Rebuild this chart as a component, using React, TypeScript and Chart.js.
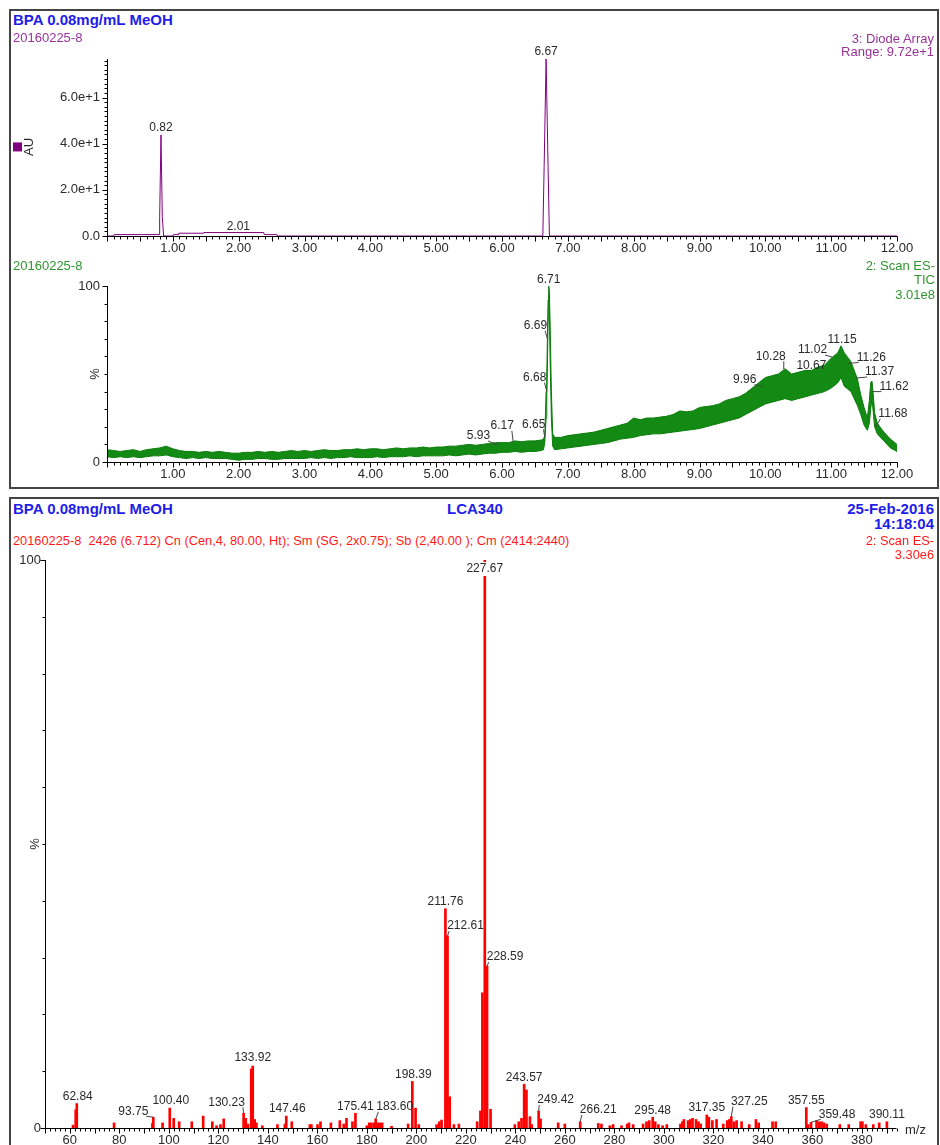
import { useEffect, useRef } from "react";
import { Chart, registerables } from "chart.js";

Chart.register(...registerables);

const FONT = "'Liberation Sans', Arial, Helvetica, sans-serif";
Chart.defaults.font.family = FONT;
Chart.defaults.color = "#2a2a2a";

// ---------------- Panel 1: Diode Array (AU) ----------------
const dadTimes = [0, 0.1, 0.11, 0.79, 0.8, 0.82, 0.84, 0.86, 1.0, 1.01, 1.08, 1.09, 1.46, 1.47, 2.38, 2.39, 2.58, 2.59, 6.62, 6.64, 6.67, 6.7, 6.72, 12];
const dadAbsorbance = [0, 0, 0.6, 0.6, 8, 43.8, 8, 0, 0, 0.6, 0.6, 1.2, 1.2, 1.5, 1.5, 0.6, 0.6, 0, 0, 30, 76.7, 30, 0, 0];
const dadPeakTimes = [0.82, 2.01, 6.67];
const dadPeakValues = [43.8, 1.5, 76.7];

const timeTicks = [1, 2, 3, 4, 5, 6, 7, 8, 9, 10, 11, 12];
const timeTickLabels = ["1.00", "2.00", "3.00", "4.00", "5.00", "6.00", "7.00", "8.00", "9.00", "10.00", "11.00", "12.00"];
const dadYTicks = [0, 20, 40, 60];
const dadYTickLabels = ["0.0", "2.0e+1", "4.0e+1", "6.0e+1"];

// ---------------- Panel 2: TIC (%), noise band low / high ----------------
const ticTimes = [
  0.0, 0.1, 0.2, 0.3, 0.4, 0.5, 0.6, 0.7, 0.8, 0.9,
  1.0, 1.1, 1.2, 1.3, 1.4, 1.5, 1.6, 1.7, 1.8, 1.9,
  2.0, 2.1, 2.2, 2.3, 2.4, 2.5, 2.6, 2.7, 2.8, 2.9,
  3.0, 3.1, 3.2, 3.3, 3.4, 3.5, 3.6, 3.7, 3.8, 3.9,
  4.0, 4.1, 4.2, 4.3, 4.4, 4.5, 4.6, 4.7, 4.8, 4.9,
  5.0, 5.1, 5.2, 5.3, 5.4, 5.5, 5.6, 5.7, 5.8, 5.9,
  6.0, 6.1, 6.2, 6.3, 6.4, 6.5, 6.6,
  6.63, 6.65, 6.67, 6.68, 6.69, 6.7, 6.71, 6.72, 6.73, 6.75, 6.77,
  6.8, 6.9, 7.0, 7.1, 7.2, 7.3, 7.4, 7.5, 7.6, 7.7, 7.8, 7.9,
  8.0, 8.1, 8.2, 8.3, 8.4, 8.5, 8.6, 8.7, 8.8, 8.9,
  9.0, 9.1, 9.2, 9.3, 9.4, 9.5, 9.6, 9.7, 9.8, 9.9,
  10.0, 10.1, 10.2, 10.3, 10.4, 10.5, 10.6, 10.7, 10.8, 10.9, 11.0,
  11.1, 11.15, 11.2, 11.3, 11.4, 11.45, 11.5, 11.55, 11.58, 11.6, 11.62, 11.64, 11.66, 11.7, 11.8, 11.9, 12.0,
];
const ticLow = [
  3, 2.5, 3, 2.5, 3, 2.5, 3, 3.5, 3.5, 4,
  3, 2.5, 2, 2.5, 2, 2.5, 2, 2, 2, 1.5,
  1, 1.5, 1.5, 2, 2, 1.5, 1.5, 2, 2, 2,
  2, 2.5, 2, 2.5, 2, 2.5, 2.5, 3, 2.5, 2.5,
  2.5, 3, 2.5, 3, 3, 3, 3.5, 3, 3.5, 3.5,
  3.5, 3.5, 4, 3.5, 4, 4.5, 4, 4.5, 5, 5,
  5.5, 5.5, 6, 5.5, 6, 6, 6.5,
  7, 11, 25, 38, 55, 80, 95, 85, 60, 25, 9,
  7, 7.5, 8, 8.5, 9, 9.5, 10, 10.5, 11, 12, 13, 13.5,
  14, 15, 15.5, 16, 16, 16.5, 17, 17.5, 18, 18.5,
  19, 20, 21, 22, 23, 24, 25, 27, 29, 31,
  33, 34, 35, 36, 35, 36, 37, 38, 39, 40, 42,
  45, 48, 43, 40, 32, 27, 21, 18, 22, 30, 36, 28, 20, 16, 12, 8, 6,
];
const ticHigh = [
  7, 6.5, 6, 6.5, 7, 6, 7, 7.5, 8, 9,
  7.5, 6.5, 6, 6, 5.5, 6, 5.5, 6, 5.5, 5,
  5, 5.5, 5.5, 6, 5.5, 6, 5.5, 6, 6.5, 6,
  6.5, 6, 6.5, 7, 6.5, 6.5, 7, 7, 7.5, 7,
  7.5, 7.5, 7, 7.5, 8, 7.5, 8, 8, 8.5, 8,
  8.5, 8.5, 9, 9, 9.5, 10, 9.5, 10, 10.5, 11,
  11, 11, 12, 11.5, 12, 12, 12.5,
  13, 15, 40, 48, 72, 92, 100, 97, 80, 40, 16,
  14, 14, 15, 15.5, 16, 16.5, 17, 18, 19, 20, 21, 22,
  25, 24, 25, 25, 25.5, 26, 27, 29, 28.5, 29,
  31, 31.5, 32, 33, 35, 36, 37, 39, 42, 45,
  48, 49, 50, 53, 50, 51, 52, 52, 54, 55, 59,
  62, 66, 62, 57, 47, 38, 31, 25, 35, 45, 46, 38, 28, 22, 17, 13, 10,
];
const ticPeakTimes = [5.93, 6.17, 6.65, 6.68, 6.69, 6.71, 9.96, 10.28, 10.67, 11.02, 11.15, 11.26, 11.37, 11.62, 11.68];
const ticPeakValues = [9.7, 11.4, 14, 40, 70, 100, 42.8, 52.7, 51, 59.6, 65.9, 56, 47.7, 40, 20];
const ticYTicks = [0, 100];
const ticYTickLabels = ["0", "100"];

// ---------------- Panel 3: mass spectrum ----------------
const msMz = [
  61.3, 62.4, 62.84, 77.9, 93.4, 93.75, 97.5, 100.4, 102.0, 104.2, 109.3, 113.9, 117.6, 119.3, 120.9, 122.2,
  130.23, 131.1, 132.0, 133.3, 133.92, 134.7, 135.4, 137.8, 143.9, 146.9, 147.46, 149.7, 157.0, 157.6, 160.1, 161.3,
  165.5, 169.1, 170.7, 171.8, 174.2, 175.41, 180.0, 181.0, 181.8, 182.8, 183.6, 184.4, 185.3, 186.2, 190.0,
  196.7, 198.39, 199.7, 201.0, 208.2, 209.3, 210.2, 211.76, 212.61, 213.5, 215.2, 217.2,
  224.6, 225.9, 226.7, 227.67, 228.59, 230.0, 239.8, 241.4, 242.5, 243.57, 244.5, 245.9, 246.6, 249.42, 250.2,
  257.3, 260.0, 266.21, 273.5, 274.8, 278.2, 279.5, 282.9, 285.2, 285.9, 287.6, 291.6, 293.0, 294.1, 295.48,
  296.5, 297.8, 299.5, 301.2, 306.7, 307.5, 308.1, 309.8, 310.7, 311.6, 313.0, 314.0, 314.9, 317.35, 318.2,
  319.6, 321.3, 324.0, 325.6, 326.4, 327.25, 328.3, 329.4, 331.4, 334.5, 337.2, 338.3, 343.9, 345.2,
  357.55, 358.3, 359.48, 361.7, 362.8, 363.7, 364.7, 365.8, 371.1, 374.7, 379.5, 380.2, 381.6, 384.6, 387.0, 390.11,
];
const msIntensity = [
  0.5, 3.2, 4.3, 0.9, 0.8, 1.9, 0.9, 3.5, 1.7, 1.1, 1.1, 2.1, 1.1, 0.4, 0.6, 1.6,
  2.6, 1.7, 0.7, 10.4, 10.9, 1.5, 0.9, 0.4, 0.6, 0.7, 2.1, 1.1, 0.6, 0.6, 0.6, 1.1,
  0.9, 1.3, 0.7, 1.7, 1.1, 2.6, 0.4, 0.9, 0.9, 0.9, 1.6, 0.9, 0.9, 0.9, 0.3,
  0.7, 8.2, 3.5, 0.6, 0.6, 1.1, 1.4, 38.6, 33.8, 5.5, 0.6, 0.7,
  1.1, 3.0, 23.8, 100, 28.5, 3.3, 0.6, 1.1, 1.7, 7.7, 6.7, 2.0, 0.6, 3.0, 1.6,
  0.9, 0.7, 1.1, 0.8, 0.7, 0.4, 0.6, 0.4, 0.7, 0.9, 0.6, 0.7, 1.1, 1.3, 1.9,
  1.1, 0.6, 0.4, 0.6, 0.7, 1.1, 1.5, 1.3, 1.5, 1.7, 1.5, 1.1, 0.7, 2.3, 1.9,
  1.3, 1.5, 0.7, 1.3, 1.5, 2.0, 1.1, 1.3, 1.1, 0.6, 1.5, 0.9, 1.1, 1.1,
  3.6, 0.6, 1.0, 1.3, 1.1, 1.1, 0.9, 0.7, 0.6, 0.6, 1.1, 1.1, 0.6, 0.6, 0.9, 1.1,
];
const msLabelMz = [62.84, 93.75, 100.4, 130.23, 133.92, 147.46, 175.41, 183.6, 198.39, 211.76, 212.61, 227.67, 228.59, 243.57, 249.42, 266.21, 295.48, 317.35, 327.25, 357.55, 359.48, 390.11];
const msXTicks = [60, 80, 100, 120, 140, 160, 180, 200, 220, 240, 260, 280, 300, 320, 340, 360, 380];
const msYTicks = [0, 100];
const msYTickLabels = ["0", "100"];

// ---------------- label placement (pixel offsets, separate from data) ----------------
const dadLabelLayout = [[0, -7, 0], [-1, -6, 0], [0, -7, 0]];
const ticLabelLayout = [
  [-19, -9, 1], [-11, -16, 1], [-11, -13, 1], [-12, -14, 1], [-12, -13, 1], [0, -6, 0],
  [-18, -7, 1], [-13, -13, 1], [2, -7, 0], [-20, -7, 1], [1, -6, 0], [23, -6, 1], [24, -6, 1], [22, -5, 1], [17, -13, 1],
];
const msLabelLayout = [
  [1, -7, 0], [-20, -6, 1], [1, -7, 0], [-17, -11, 1], [0, -8, 0], [1, -7, 0], [0, -7, 0], [19, -12, 1],
  [1, -7, 0], [0, -7, 0], [18, -10, 1], [0, 9, 2], [18, -9, 1], [0, -7, 0], [17, -11, 1], [18, -12, 1],
  [0, -7, 0], [0, -7, 0], [18, -15, 1], [0, -7, 0], [26, -8, 1], [0, -7, 0],
];

const fmt2 = (v: number) => v.toFixed(2);

type TickLevel = { step: number; len: number };

const decorPlugin = {
  id: "decor",
  afterDraw(chart: any, _a: any, o: any) {
    const { ctx, chartArea: ca, scales } = chart;
    const xs = scales.x;
    const ys = scales.y;
    ctx.save();
    ctx.strokeStyle = "#000";
    ctx.lineWidth = 1;
    const ax = Math.round(ca.left) + 0.5;
    const ay = Math.round(ys.getPixelForValue(0)) + 0.5;
    const xEnd = xs.getPixelForValue(o.xTo);
    ctx.beginPath();
    ctx.moveTo(ax, Math.round(ca.top));
    ctx.lineTo(ax, ay);
    ctx.lineTo(xEnd, ay);
    ctx.stroke();
    // ticks
    ctx.beginPath();
    (o.xLevels as TickLevel[]).forEach((lv) => {
      const n = Math.floor((o.xTo - o.xFrom) / lv.step + 1e-6);
      for (let i = 0; i <= n; i++) {
        const v = o.xFrom + i * lv.step;
        const px = Math.round(xs.getPixelForValue(v)) + 0.5;
        ctx.moveTo(px, ay);
        ctx.lineTo(px, ay + lv.len);
      }
    });
    (o.yLevels as TickLevel[]).forEach((lv) => {
      const n = Math.floor(o.yTo / lv.step + 1e-6);
      for (let i = 0; i <= n; i++) {
        const v = i * lv.step;
        const py = Math.round(ys.getPixelForValue(v)) + 0.5;
        ctx.moveTo(ax - lv.len, py);
        ctx.lineTo(ax, py);
      }
    });
    ctx.stroke();

    ctx.fillStyle = "#2a2a2a";
    ctx.font = `13px ${FONT}`;
    ctx.textAlign = "center";
    ctx.textBaseline = "middle";
    (o.titles || []).forEach((t: any) => {
      const py = ys.getPixelForValue(t.value);
      ctx.save();
      ctx.translate(t.x, py);
      if (t.rotate) ctx.rotate(-Math.PI / 2);
      ctx.textAlign = t.align || "center";
      ctx.fillText(t.text, 0, 0);
      ctx.restore();
    });
    if (o.marker) {
      const py = ys.getPixelForValue(o.marker.value);
      ctx.fillStyle = o.marker.color;
      ctx.fillRect(o.marker.x, py - 4.5, 9, 9);
    }

    // peak labels
    ctx.font = `12px ${FONT}`;
    ctx.textAlign = "center";
    ctx.textBaseline = "middle";
    (o.labels || []).forEach((l: any) => {
      const px = xs.getPixelForValue(l.x);
      const py = ys.getPixelForValue(l.y);
      const cx = px + l.dx;
      const cy = py + l.dy;
      const w = ctx.measureText(l.text).width;
      if (l.mode === 2) {
        ctx.fillStyle = "#fff";
        ctx.fillRect(cx - w / 2 - 1, cy - 7, w + 2, 14);
      }
      if (l.mode === 1) {
        ctx.strokeStyle = "#444";
        ctx.beginPath();
        const ex = l.dx < 0 ? cx + w / 2 - 2 : cx - w / 2 + 2;
        ctx.moveTo(px, py);
        ctx.lineTo(ex, cy + 5);
        ctx.stroke();
      }
      ctx.fillStyle = "#2a2a2a";
      ctx.fillText(l.text, cx, cy);
    });
    ctx.restore();
  },
};

function baseOptions(top: number, right: number) {
  return {
    animation: false,
    responsive: false,
    maintainAspectRatio: false,
    devicePixelRatio: 1,
    events: [],
    layout: { padding: { left: 0, top, right: 940 - right, bottom: 0 } },
    plugins: { legend: { display: false }, tooltip: { enabled: false }, title: { display: false } },
  } as any;
}

function xScale(min: number, max: number, ticks: number[], labels: string[], height: number) {
  return {
    type: "linear",
    min,
    max,
    offset: false,
    grid: { display: false, drawTicks: false, offset: false },
    border: { display: false },
    afterBuildTicks: (s: any) => {
      s.ticks = ticks.map((v) => ({ value: v }));
    },
    afterFit: (s: any) => {
      s.height = height;
    },
    ticks: {
      padding: 5,
      autoSkip: false,
      maxRotation: 0,
      minRotation: 0,
      font: { size: 13 },
      color: "#2a2a2a",
      callback: (_v: any, i: number) => labels[i],
    },
  };
}

function yScale(max: number, ticks: number[], labels: string[], width: number, padding: number) {
  return {
    type: "linear",
    min: 0,
    max,
    grid: { display: false, drawTicks: false },
    border: { display: false },
    afterBuildTicks: (s: any) => {
      s.ticks = ticks.map((v) => ({ value: v }));
    },
    afterFit: (s: any) => {
      s.width = width;
    },
    ticks: {
      padding,
      autoSkip: false,
      font: { size: 13 },
      color: "#2a2a2a",
      callback: (_v: any, i: number) => labels[i],
    },
  };
}

function Txt(props: { x: number; base: number; size: number; color: string; bold?: boolean; align?: "left" | "right"; children: string }) {
  const { x, base, size, color, bold, align, children } = props;
  const top = base - 0.8465 * size;
  const style: any = {
    position: "absolute",
    top,
    fontSize: size,
    lineHeight: `${size}px`,
    color,
    fontWeight: bold ? "bold" : "normal",
    whiteSpace: "pre",
    fontFamily: FONT,
  };
  if (align === "right") style.right = 940 - x;
  else style.left = x;
  return <div style={style}>{children}</div>;
}

export default function App() {
  const c1 = useRef<HTMLCanvasElement>(null);
  const c2 = useRef<HTMLCanvasElement>(null);
  const c3 = useRef<HTMLCanvasElement>(null);

  useEffect(() => {
    const charts: Chart[] = [];

    // ---- DAD ----
    {
      const o = baseOptions(19, 897);
      charts.push(
        new Chart(c1.current!, {
          type: "line",
          data: {
            datasets: [
              {
                data: dadTimes.map((t, i) => ({ x: t, y: dadAbsorbance[i] })),
                borderColor: "#800080",
                borderWidth: 1,
                pointRadius: 0,
                tension: 0,
                fill: false,
              },
            ],
          },
          options: {
            ...o,
            plugins: {
              ...o.plugins,
              decor: {
                xFrom: 0,
                xTo: 12,
                xLevels: [{ step: 0.1, len: 3 }, { step: 0.5, len: 5 }],
                yTo: 76,
                yLevels: [{ step: 2, len: 3 }, { step: 20, len: 5 }],
                titles: [{ text: "AU", x: 29, value: 38.6, rotate: true }],
                marker: { x: 13, value: 38.6, color: "#800080" },
                labels: dadPeakTimes.map((t, i) => ({
                  x: t,
                  y: dadPeakValues[i],
                  text: fmt2(t),
                  dx: dadLabelLayout[i][0],
                  dy: dadLabelLayout[i][1],
                  mode: dadLabelLayout[i][2],
                })),
              },
            },
            scales: {
              x: xScale(0, 12, timeTicks, timeTickLabels, 220 - 196),
              y: yScale(76.7, dadYTicks, dadYTickLabels, 107, 7),
            },
          } as any,
          plugins: [decorPlugin],
        })
      );
    }

    // ---- TIC ----
    {
      const o = baseOptions(24, 897);
      charts.push(
        new Chart(c2.current!, {
          type: "line",
          data: {
            datasets: [
              {
                data: ticTimes.map((t, i) => ({ x: t, y: ticLow[i] })),
                borderColor: "#0a7d0a",
                borderWidth: 1,
                pointRadius: 0,
                tension: 0,
                fill: false,
              },
              {
                data: ticTimes.map((t, i) => ({ x: t, y: ticHigh[i] })),
                borderColor: "#0a7d0a",
                backgroundColor: "#138a13",
                borderWidth: 1,
                pointRadius: 0,
                tension: 0,
                fill: "-1",
              },
            ],
          },
          options: {
            ...o,
            plugins: {
              ...o.plugins,
              filler: { propagate: false },
              decor: {
                xFrom: 0,
                xTo: 12,
                xLevels: [{ step: 0.1, len: 3 }, { step: 0.5, len: 5 }],
                yTo: 100,
                yLevels: [{ step: 10, len: 3 }, { step: 100, len: 5 }],
                titles: [{ text: "%", x: 95, value: 50, rotate: true }],
                labels: ticPeakTimes.map((t, i) => ({
                  x: t,
                  y: ticPeakValues[i],
                  text: fmt2(t),
                  dx: ticLabelLayout[i][0],
                  dy: ticLabelLayout[i][1],
                  mode: ticLabelLayout[i][2],
                })),
              },
            },
            scales: {
              x: xScale(0, 12, timeTicks, timeTickLabels, 220 - 200),
              y: yScale(100, ticYTicks, ticYTickLabels, 107, 7),
            },
          } as any,
          plugins: [decorPlugin],
        })
      );
    }

    // ---- MS ----
    {
      const o = baseOptions(12, 899);
      charts.push(
        new Chart(c3.current!, {
          type: "bar",
          data: {
            datasets: [
              {
                data: msMz.map((m, i) => ({ x: m, y: msIntensity[i] })),
                backgroundColor: "#ff0000",
                borderWidth: 0,
                barThickness: 2,
                grouped: false,
              },
            ],
          },
          options: {
            ...o,
            plugins: {
              ...o.plugins,
              decor: {
                xFrom: 50,
                xTo: 394,
                xLevels: [{ step: 2, len: 3 }, { step: 10, len: 5 }],
                yTo: 100,
                yLevels: [{ step: 10, len: 3 }, { step: 100, len: 5 }],
                titles: [
                  { text: "%", x: 35, value: 50, rotate: true },
                  { text: "m/z", x: 905, value: -0.5, align: "left" },
                ],
                labels: msLabelMz.map((m, i) => ({
                  x: m,
                  y: msIntensity[msMz.indexOf(m)],
                  text: fmt2(m),
                  dx: msLabelLayout[i][0],
                  dy: msLabelLayout[i][1],
                  mode: msLabelLayout[i][2],
                })),
              },
            },
            scales: {
              x: xScale(50, 395, msXTicks, msXTicks.map(String), 597 - 580),
              y: yScale(100, msYTicks, msYTickLabels, 45, 4),
            },
          } as any,
          plugins: [decorPlugin],
        })
      );
    }

    return () => charts.forEach((c) => c.destroy());
  }, []);

  const box = (left: number, top: number, width: number, height: number) => ({
    position: "absolute" as const,
    left,
    top,
    width,
    height,
    border: "2px solid #444",
    boxSizing: "border-box" as const,
  });

  const blue = "#1e1ee8";
  const purple = "#993399";
  const green = "#2f962f";
  const red = "#ff1a1a";

  return (
    <div style={{ position: "absolute", left: 0, top: 0, width: 940, height: 1145, overflow: "hidden", background: "#fff", fontFamily: FONT }}>
      <div style={box(9, 9, 930, 480)} />
      <div style={box(9, 497, 930, 700)} />
      <canvas ref={c1} width={940} height={220} style={{ position: "absolute", left: 0, top: 40 }} />
      <canvas ref={c2} width={940} height={220} style={{ position: "absolute", left: 0, top: 262 }} />
      <canvas ref={c3} width={940} height={597} style={{ position: "absolute", left: 0, top: 548 }} />

      <Txt x={13} base={25} size={15} color={blue} bold>BPA 0.08mg/mL MeOH</Txt>
      <Txt x={13} base={42} size={13} color={purple}>20160225-8</Txt>
      <Txt x={934} base={43} size={13} color={purple} align="right">3: Diode Array</Txt>
      <Txt x={934} base={56} size={13} color={purple} align="right">Range: 9.72e+1</Txt>

      <Txt x={13} base={270} size={13} color={green}>20160225-8</Txt>
      <Txt x={935} base={270} size={13} color={green} align="right">2: Scan ES-</Txt>
      <Txt x={935} base={284} size={13} color={green} align="right">TIC</Txt>
      <Txt x={935} base={299} size={13} color={green} align="right">3.01e8</Txt>

      <Txt x={13} base={514} size={15} color={blue} bold>BPA 0.08mg/mL MeOH</Txt>
      <Txt x={447} base={514} size={15} color={blue} bold>LCA340</Txt>
      <Txt x={934} base={514} size={15} color={blue} bold align="right">25-Feb-2016</Txt>
      <Txt x={934} base={529} size={15} color={blue} bold align="right">14:18:04</Txt>
      <Txt x={13} base={546} size={12.8} color={red}>{"20160225-8  2426 (6.712) Cn (Cen,4, 80.00, Ht); Sm (SG, 2x0.75); Sb (2,40.00 ); Cm (2414:2440)"}</Txt>
      <Txt x={934} base={546} size={12.8} color={red} align="right">2: Scan ES-</Txt>
      <Txt x={934} base={560} size={12.8} color={red} align="right">3.30e6</Txt>
    </div>
  );
}
